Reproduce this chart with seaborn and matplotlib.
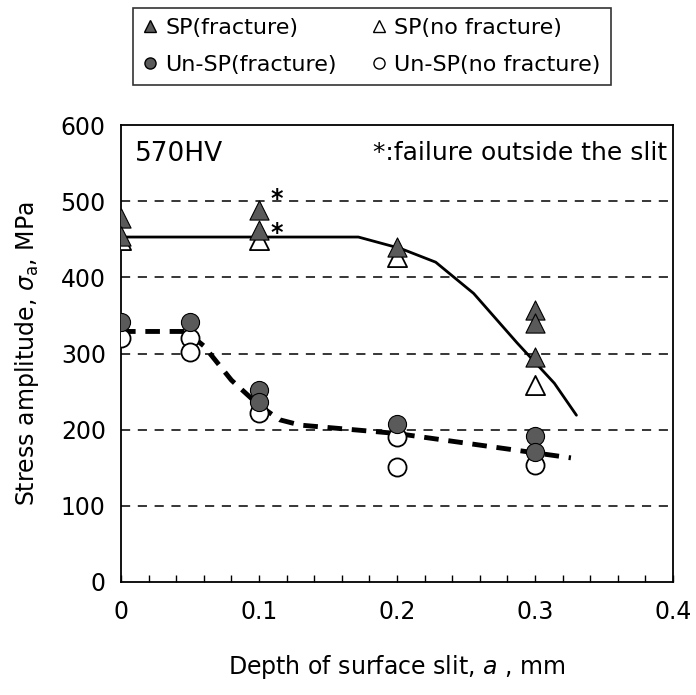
import matplotlib
matplotlib.use("Agg")
import matplotlib.pyplot as plt
import seaborn as sns
import pandas as pd
from matplotlib.lines import Line2D
from matplotlib.ticker import MultipleLocator

sns.set_theme(style="white")
plt.rcParams['font.family'] = ['DejaVu Sans']
plt.rcParams['mathtext.fontset'] = 'dejavusans'
plt.rcParams['text.color'] = 'black'
plt.rcParams['axes.labelcolor'] = 'black'
plt.rcParams['xtick.color'] = 'black'
plt.rcParams['ytick.color'] = 'black'

# Data
sp_frac_x = [0.0, 0.0, 0.1, 0.1, 0.2, 0.3, 0.3, 0.3]
sp_frac_y = [478, 455, 488, 462, 440, 357, 340, 296]
sp_nofrac_x = [0.0, 0.1, 0.2, 0.3]
sp_nofrac_y = [449, 449, 427, 259]
un_frac_x = [0.0, 0.05, 0.1, 0.1, 0.2, 0.3, 0.3]
un_frac_y = [342, 342, 252, 237, 207, 192, 171]
un_nofrac_x = [0.0, 0.05, 0.05, 0.1, 0.2, 0.2, 0.3]
un_nofrac_y = [320, 321, 302, 222, 191, 151, 154]
star_x = [0.108, 0.108]
star_y = [503, 458]

sp_curve_x = [0.0, 0.172, 0.2025, 0.228, 0.2555, 0.287, 0.314, 0.330]
sp_curve_y = [453, 453, 438, 420, 379, 314, 261, 219]
un_curve_x = [0.0, 0.047, 0.06, 0.08, 0.1, 0.115, 0.13, 0.2, 0.326]
un_curve_y = [329, 329, 310, 265, 232, 213, 206, 195, 163]

x_ticks = [0, 0.1, 0.2, 0.3, 0.4]
x_ticklabels = ['0', '0.1', '0.2', '0.3', '0.4']
y_ticks = [0, 100, 200, 300, 400, 500, 600]

fig = plt.figure(figsize=(6.96, 6.95), dpi=100)
ax = fig.add_axes([0.1739, 0.1626, 0.967 - 0.1739, 0.820 - 0.1626])

gray = '#5a5a5a'

# gridlines
for yv in y_ticks[1:-1]:
    ax.axhline(yv, color='black', lw=1.1, ls=(0, (6, 5)), zorder=0)

sp_df = pd.DataFrame({'x': sp_curve_x, 'y': sp_curve_y})
un_df = pd.DataFrame({'x': un_curve_x, 'y': un_curve_y})
sns.lineplot(data=sp_df, x='x', y='y', ax=ax, color='black', lw=2.0, sort=False, zorder=2)
sns.lineplot(data=un_df, x='x', y='y', ax=ax, color='black', lw=3.5, sort=False,
             dashes=False, zorder=2)
ax.lines[-1].set_linestyle((0, (3, 2)))

sns.scatterplot(x=sp_nofrac_x, y=sp_nofrac_y, ax=ax, marker='^', s=190,
                facecolor='white', edgecolor='black', linewidth=1.3, zorder=3)
sns.scatterplot(x=sp_frac_x, y=sp_frac_y, ax=ax, marker='^', s=190,
                color=gray, edgecolor='black', linewidth=0.8, zorder=4)
sns.scatterplot(x=un_nofrac_x, y=un_nofrac_y, ax=ax, marker='o', s=170,
                facecolor='white', edgecolor='black', linewidth=1.3, zorder=3)
sns.scatterplot(x=un_frac_x, y=un_frac_y, ax=ax, marker='o', s=170,
                color=gray, edgecolor='black', linewidth=0.8, zorder=4)

for sx, sy in zip(star_x, star_y):
    ax.text(sx, sy, '*', fontsize=17, fontweight='bold', ha='left', va='center')

ax.set_xlim(0, 0.4)
ax.set_ylim(0, 600)
ax.set_xticks(x_ticks)
ax.set_xticklabels(x_ticklabels)
ax.set_yticks(y_ticks)
ax.xaxis.set_minor_locator(MultipleLocator(0.02))
ax.tick_params(axis='x', which='minor', direction='in', length=5, width=1,
               bottom=True, color='black')
ax.tick_params(axis='x', which='major', direction='in', length=5, width=1,
               bottom=True, color='black', pad=13)
ax.tick_params(axis='y', which='major', length=0, pad=11)
ax.tick_params(labelsize=17)
for sp in ax.spines.values():
    sp.set_color('black')
    sp.set_linewidth(1.3)

ax.set_xlabel('Depth of surface slit, $a$ , mm', fontsize=17)
ax.set_ylabel(r'Stress amplitude, $\sigma_{\mathrm{a}}$, MPa', fontsize=17)
ax.xaxis.set_label_coords(0.5, -0.155)
ax.yaxis.set_label_coords(-0.145, 0.5)

ax.text(0.025, 0.965, '570HV', transform=ax.transAxes, fontsize=19,
        ha='left', va='top')
ax.text(0.99, 0.965, '*:failure outside the slit', transform=ax.transAxes,
        fontsize=18, ha='right', va='top')

handles = [
    Line2D([], [], ls='none', marker='^', ms=8, mfc=gray, mec='black'),
    Line2D([], [], ls='none', marker='o', ms=8, mfc=gray, mec='black'),
    Line2D([], [], ls='none', marker='^', ms=8, mfc='white', mec='black'),
    Line2D([], [], ls='none', marker='o', ms=8, mfc='white', mec='black'),
]
labels = ['SP(fracture)', 'Un-SP(fracture)', 'SP(no fracture)', 'Un-SP(no fracture)']
leg = fig.legend(handles, labels, ncol=2, loc='upper left',
                 bbox_to_anchor=(133 / 696, 1 - 8 / 695), fontsize=16,
                 frameon=True, fancybox=False, edgecolor='black',
                 handlelength=0.6, handletextpad=0.4, columnspacing=1.6,
                 borderpad=0.45, labelspacing=0.75, borderaxespad=0)
leg.get_frame().set_linewidth(1.2)

fig.savefig('out.png', dpi=100, facecolor='white')
